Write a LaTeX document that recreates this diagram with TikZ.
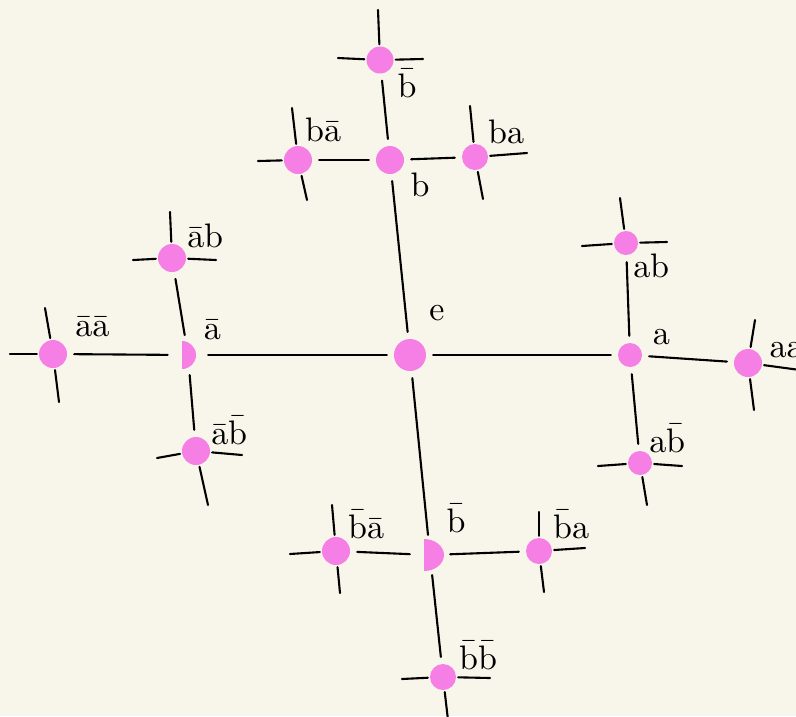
\documentclass[tikz,border=0pt]{standalone}
\usepackage{amsmath,amssymb}
\usepackage{xcolor}
\usepackage{tikz}
\definecolor{paper}{HTML}{F8F6EA}
\definecolor{blob}{HTML}{F57FE5}

\begin{document}
\begin{tikzpicture}[x=1pt,y=-1pt,
  dot/.style={circle,fill=blob,inner sep=0pt,minimum size=#1},
  dot/.default=27pt,
  hole/.style={circle,inner sep=0pt,minimum size=26pt},
  edge/.style={line width=2.1pt,line cap=round,shorten <=7pt,shorten >=7pt},
  stub/.style={line width=2.1pt,line cap=round,shorten <=2pt},
  lbl/.style={transform shape,scale=3.4,inner sep=0.5pt}]
  \useasboundingbox[fill=paper] (0,0) rectangle (796,716);
  % identity and the four words of length one
  \node[dot=32pt] (e) at (410,355) {};
  \node[dot=24pt] (a) at (630,355) {};
  \node[dot=28pt] (b) at (390,160) {};
  \node[hole] (A) at (188,355) {};
  \fill[blob] (182,341) arc[start angle=90,end angle=-90,radius=14pt] -- cycle;
  \node[hole] (B) at (430,555) {};
  \fill[blob] (424,539) arc[start angle=90,end angle=-90,x radius=20pt,y radius=16pt] -- cycle;
  % words of length two
  \node[dot=28pt] (aa) at (748,363) {};
  \node[dot=24pt] (ab) at (626,243) {};
  \node[dot=24pt] (aB) at (640,463) {};
  \node[dot=28pt] (AA) at (53,354) {};
  \node[dot=28pt] (Ab) at (172,258) {};
  \node[dot=28pt] (AB) at (196,451) {};
  \node[dot=27pt] (bt) at (380,60) {};
  \node[dot=28pt] (bA) at (298,160) {};
  \node[dot=26pt] (ba) at (475,157) {};
  \node[dot=28pt] (BA) at (336,551) {};
  \node[dot=26pt] (Ba) at (539,551) {};
  \node[dot=26pt] (BB) at (443,677) {};
  % edges
  \draw[edge] (e) -- (a);
  \draw[edge] (e) -- (A);
  \draw[edge] (e) -- (b);
  \draw[edge] (e) -- (B);
  \draw[edge] (a) -- (ab);
  \draw[edge] (a) -- (aa);
  \draw[edge] (a) -- (aB);
  \draw[edge] (A) -- (Ab);
  \draw[edge] (A) -- (AA);
  \draw[edge] (A) -- (AB);
  \draw[edge] (b) -- (bt);
  \draw[edge] (b) -- (bA);
  \draw[edge] (b) -- (ba);
  \draw[edge] (B) -- (BA);
  \draw[edge] (B) -- (Ba);
  \draw[edge] (B) -- (BB);
  % loose ends
  \foreach \n/\dx/\dy in {bt/-2/-50, bt/-42/-2, bt/43/-1,
      bA/-6/-52, bA/-40/1, bA/9/40,
      ba/-5/-51, ba/52/-4, ba/8/42,
      ab/-6/-45, ab/-44/3, ab/41/-1,
      aa/7/-43, aa/52/7, aa/6/47,
      aB/-42/3, aB/42/3, aB/7/42,
      Ab/-2/-46, Ab/-39/2, Ab/44/2,
      AA/-8/-46, AA/-43/0, AA/6/48,
      AB/-39/7, AB/46/4, AB/12/54,
      BA/-4/-46, BA/-46/3, BA/4/42,
      Ba/0/-39, Ba/46/-3, Ba/5/41,
      BB/-41/2, BB/47/1, BB/5/43}
    \draw[stub] (\n) -- ++(\dx,\dy);
  % labels
  \node[lbl] (l-e) at (437,313) {$\mathrm{e}$};
  \node[lbl] (l-a) at (661,337) {$\mathrm{a}$};
  \node[lbl] (l-b) at (420,185) {$\mathrm{b}$};
  \node[lbl] (l-A) at (212,330) {$\mathrm{\bar a}$};
  \node[lbl] (l-B) at (456,518) {$\mathrm{\bar b}$};
  \node[lbl,anchor=west] (l-aa) at (767,350) {$\mathrm{aa}$};
  \node[lbl] (l-ab) at (651,266) {$\mathrm{ab}$};
  \node[lbl] (l-aB) at (667,438) {$\mathrm{a\bar b}$};
  \node[lbl] (l-AA) at (92,327) {$\mathrm{\bar a\bar a}$};
  \node[lbl] (l-Ab) at (205,236) {$\mathrm{\bar a b}$};
  \node[lbl] (l-AB) at (229,430) {$\mathrm{\bar a\bar b}$};
  \node[lbl] (l-bt) at (407,83) {$\mathrm{\bar b}$};
  \node[lbl] (l-bA) at (323,130) {$\mathrm{b\bar a}$};
  \node[lbl] (l-ba) at (506,132) {$\mathrm{ba}$};
  \node[lbl] (l-BA) at (366,524) {$\mathrm{\bar b\bar a}$};
  \node[lbl] (l-Ba) at (571,524) {$\mathrm{\bar b a}$};
  \node[lbl] (l-BB) at (478,655) {$\mathrm{\bar b\bar b}$};
\end{tikzpicture}
\end{document}
